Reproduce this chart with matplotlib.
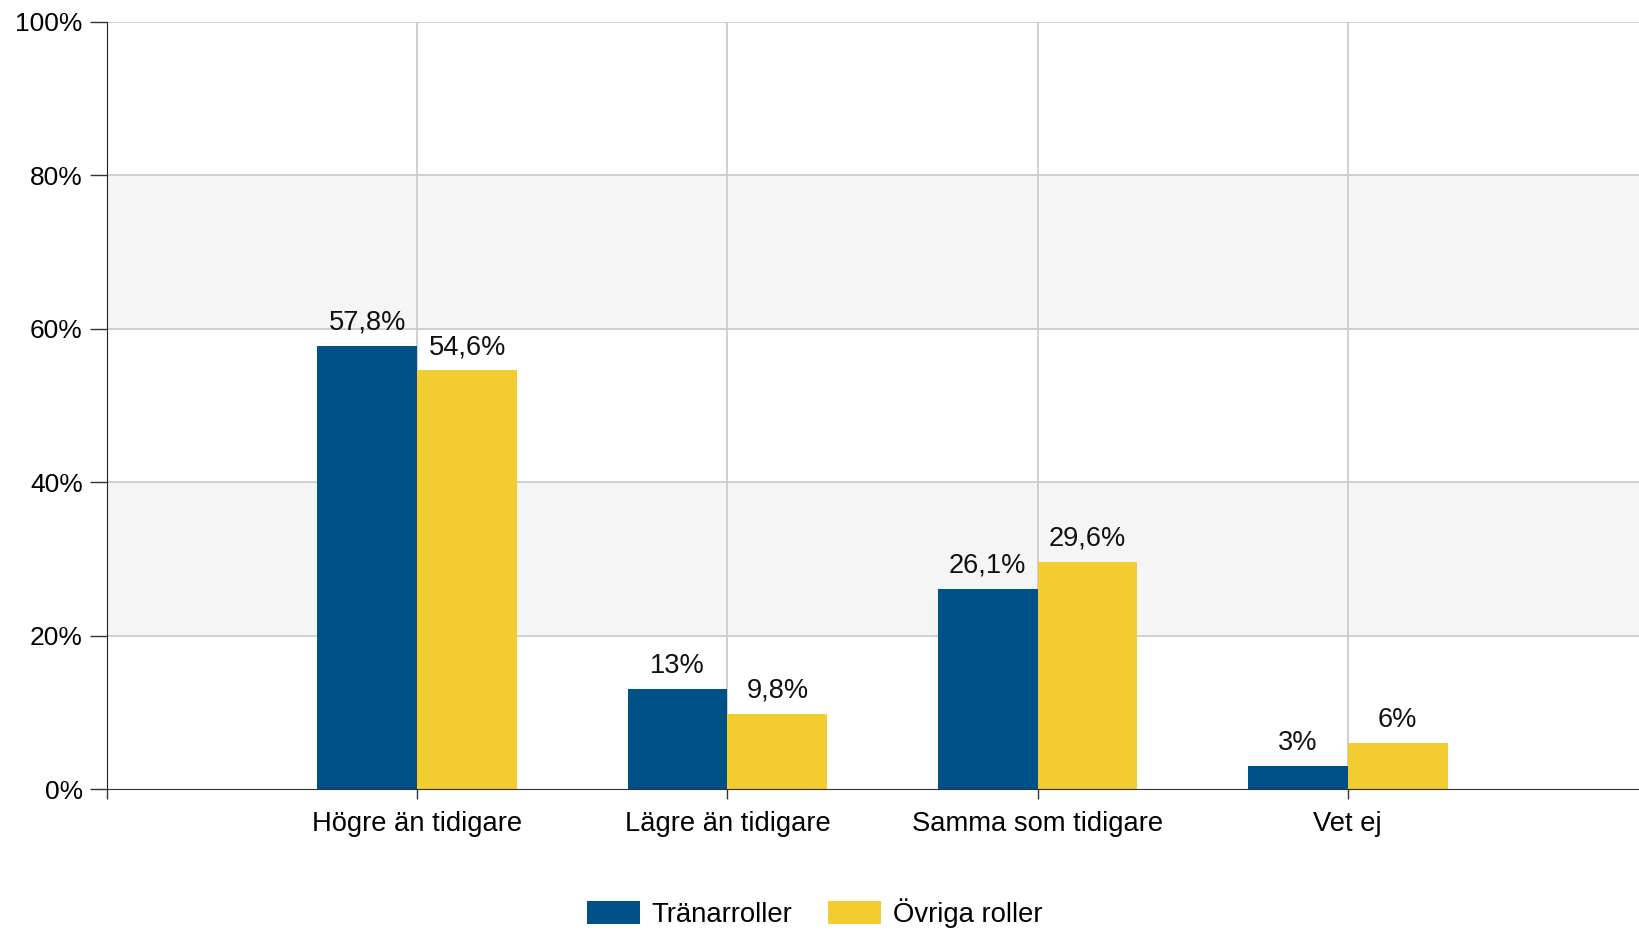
import numpy as np
import matplotlib.pyplot as plt
from matplotlib.patches import Patch

plt.rcParams['font.family'] = ['Liberation Sans', 'DejaVu Sans']

categories = ['Högre än tidigare', 'Lägre än tidigare', 'Samma som tidigare', 'Vet ej']
series_names = ['Tränarroller', 'Övriga roller']
tranarroller = [57.8, 13, 26.1, 3]
ovriga = [54.6, 9.8, 29.6, 6]
colors = ['#005187', '#f2cc30']


def fmt(v):
    if float(v).is_integer():
        return f'{int(v)}%'
    return f'{v:.1f}'.replace('.', ',') + '%'


fig = plt.figure(figsize=(16.39, 9.30), dpi=100)
# the plot area runs past the right edge, as in the reference
ax = fig.add_axes([107 / 1639, 141 / 930, 1551 / 1639, 767 / 930])

x = np.arange(1, len(categories) + 1)
w = 0.322

# alternating bands
for lo in (20, 60):
    ax.axhspan(lo, lo + 20, color='#f5f5f5', zorder=0, lw=0)
for yv in (20, 40, 60, 80, 100):
    ax.axhline(yv, color='#cccccc', lw=1.3, zorder=1)
for xv in x:
    ax.axvline(xv, color='#cccccc', lw=1.3, zorder=1)

b1 = ax.bar(x - w / 2, tranarroller, w, color=colors[0], zorder=2)
b2 = ax.bar(x + w / 2, ovriga, w, color=colors[1], zorder=2)

for bars, vals in ((b1, tranarroller), (b2, ovriga)):
    for r, v in zip(bars, vals):
        ax.annotate(fmt(v), (r.get_x() + r.get_width() / 2, v),
                    xytext=(0, 11.5), textcoords='offset points',
                    ha='center', va='baseline', fontsize=19.6, color='#111111')

ax.set_xlim(0, 5)
ax.set_ylim(0, 100)
ax.set_xticks(np.arange(0, 5))
ax.set_xticklabels([''] + categories)
ax.set_yticks(np.arange(0, 101, 20))
ax.set_yticklabels([f'{v}%' for v in range(0, 101, 20)])
ax.tick_params(axis='x', length=7.5, width=1, color='#333333', pad=8, labelsize=19.7)
ax.tick_params(axis='y', length=12, width=1, color='#333333', pad=5.5, labelsize=19)

for s in ('top', 'right'):
    ax.spines[s].set_visible(False)
ax.spines['left'].set_color('#222222')
ax.spines['bottom'].set_color('#333333')
ax.spines['left'].set_zorder(3)
ax.spines['bottom'].set_zorder(3)

handles = [Patch(facecolor=c, edgecolor='none') for c in colors]
fig.legend(handles, series_names, loc='center', bbox_to_anchor=(0.497, 17 / 930),
           ncol=2, frameon=False, fontsize=19.8, handlelength=1.92, handleheight=0.87,
           handletextpad=0.41, columnspacing=1.33, borderaxespad=0, borderpad=0)

fig.savefig('out.png', dpi=100)
